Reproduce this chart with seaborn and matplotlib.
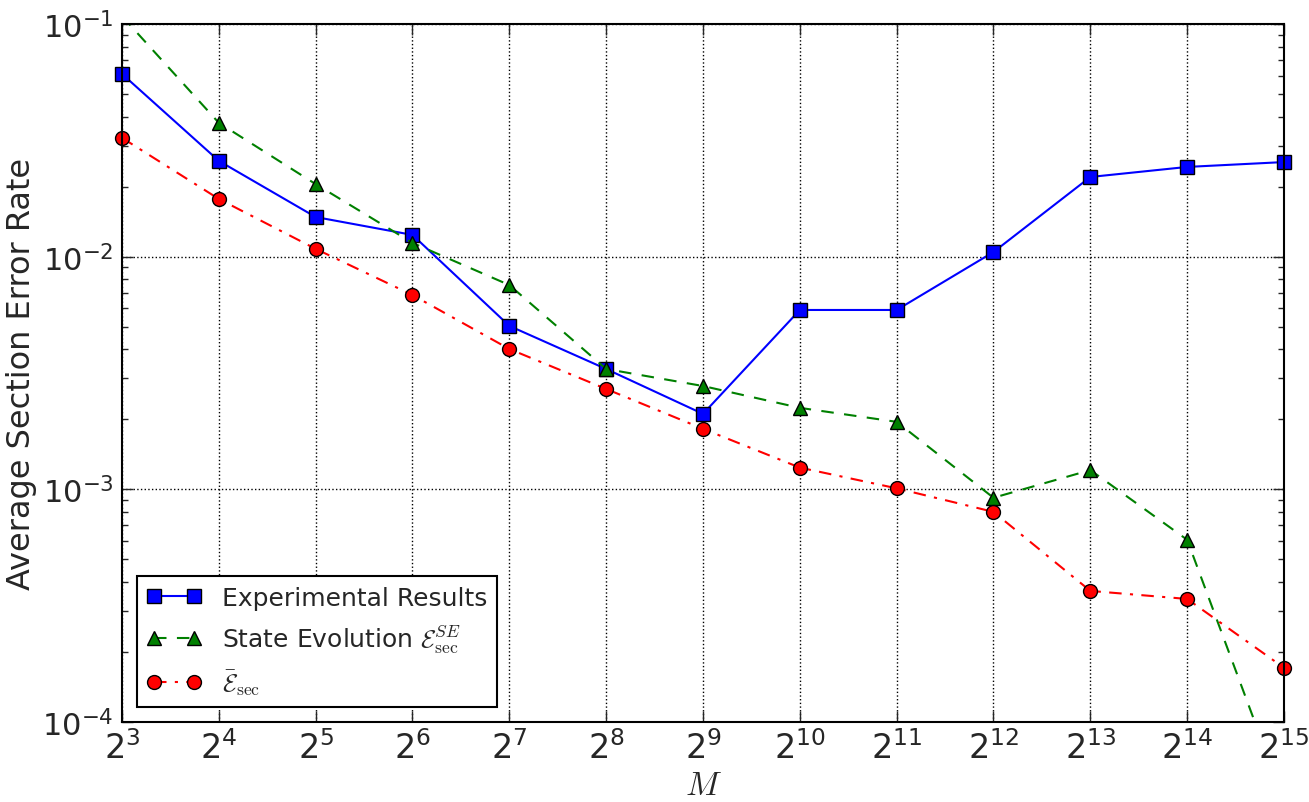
import numpy as np
import pandas as pd
import matplotlib
matplotlib.use("Agg")
import matplotlib.pyplot as plt
import seaborn as sns

# values
exponents = list(range(3, 16))
M = [2 ** k for k in exponents]
exp_err = [0.061, 0.0258, 0.0148, 0.0124, 0.00504, 0.00329, 0.00211,
           0.0059, 0.0059, 0.01047, 0.0220, 0.0243, 0.0255]
se_err = [0.108, 0.0376, 0.0205, 0.01146, 0.00755, 0.00329, 0.00278,
          0.00224, 0.00195, 0.00092, 0.00121, 0.000607, 0.000046]
bar_err = [0.0324, 0.0177, 0.0108, 0.00684, 0.00401, 0.00270, 0.00182,
           0.00124, 0.00101, 0.00080, 0.000366, 0.000338, 0.000171]

labels = ["Experimental Results",
          r"State Evolution $\mathcal{E}_{\rm sec}^{SE}$",
          r"$\bar{\mathcal{E}}_{\rm sec}$"]

sns.set_style("ticks")
plt.rcParams['font.family'] = ['DejaVu Sans']
plt.rcParams['xtick.direction'] = 'in'
plt.rcParams['ytick.direction'] = 'in'
plt.rcParams['xtick.top'] = True
plt.rcParams['ytick.right'] = True

fig = plt.figure(figsize=(13.09, 8.03), dpi=100)
ax = fig.add_axes([0.0932, 0.0996, 0.8877, 0.8693])

sns.lineplot(x=M, y=exp_err, ax=ax, color='#0000ff', linestyle='-', marker='s',
             markersize=10, markeredgecolor='black', markeredgewidth=1,
             linewidth=1.5, label=labels[0], clip_on=False)
sns.lineplot(x=M, y=se_err, ax=ax, color='#008000', linestyle=(0, (6, 5)), marker='^',
             markersize=10, markeredgecolor='black', markeredgewidth=1,
             linewidth=1.5, label=labels[1])
sns.lineplot(x=M, y=bar_err, ax=ax, color='#ff0000', linestyle=(0, (6, 4, 1.5, 4)),
             marker='o', markersize=10, markeredgecolor='black', markeredgewidth=1,
             linewidth=1.5, label=labels[2], clip_on=False)

ax.set_xscale('log', base=2)
ax.set_yscale('log')
ax.set_xlim(2 ** 3, 2 ** 15)
ax.set_ylim(1e-4, 1e-1)
ax.set_xticks(M)
ax.xaxis.set_minor_locator(matplotlib.ticker.NullLocator())

ax.grid(True, which='major', color='black', linestyle=':', linewidth=1)
ax.tick_params(which='major', length=8, width=1, pad=6)
ax.tick_params(axis='x', which='major', labelsize=24)
ax.tick_params(axis='y', which='major', labelsize=22)
ax.tick_params(which='minor', length=4, width=1)
for s in ax.spines.values():
    s.set_linewidth(1.5)
    s.set_color('black')

ax.set_ylabel("Average Section Error Rate", fontsize=23)
xl = ax.set_xlabel("$M$", fontsize=24, labelpad=2)
xl.set_math_fontfamily('cm')

leg = ax.legend(loc='lower left', numpoints=2, fontsize=18, fancybox=False,
                edgecolor='black', framealpha=1, handlelength=2.2,
                borderaxespad=0.6)
leg.get_frame().set_linewidth(1.5)
for t in leg.get_texts():
    t.set_math_fontfamily('cm')

fig.savefig("out.png", dpi=100)
